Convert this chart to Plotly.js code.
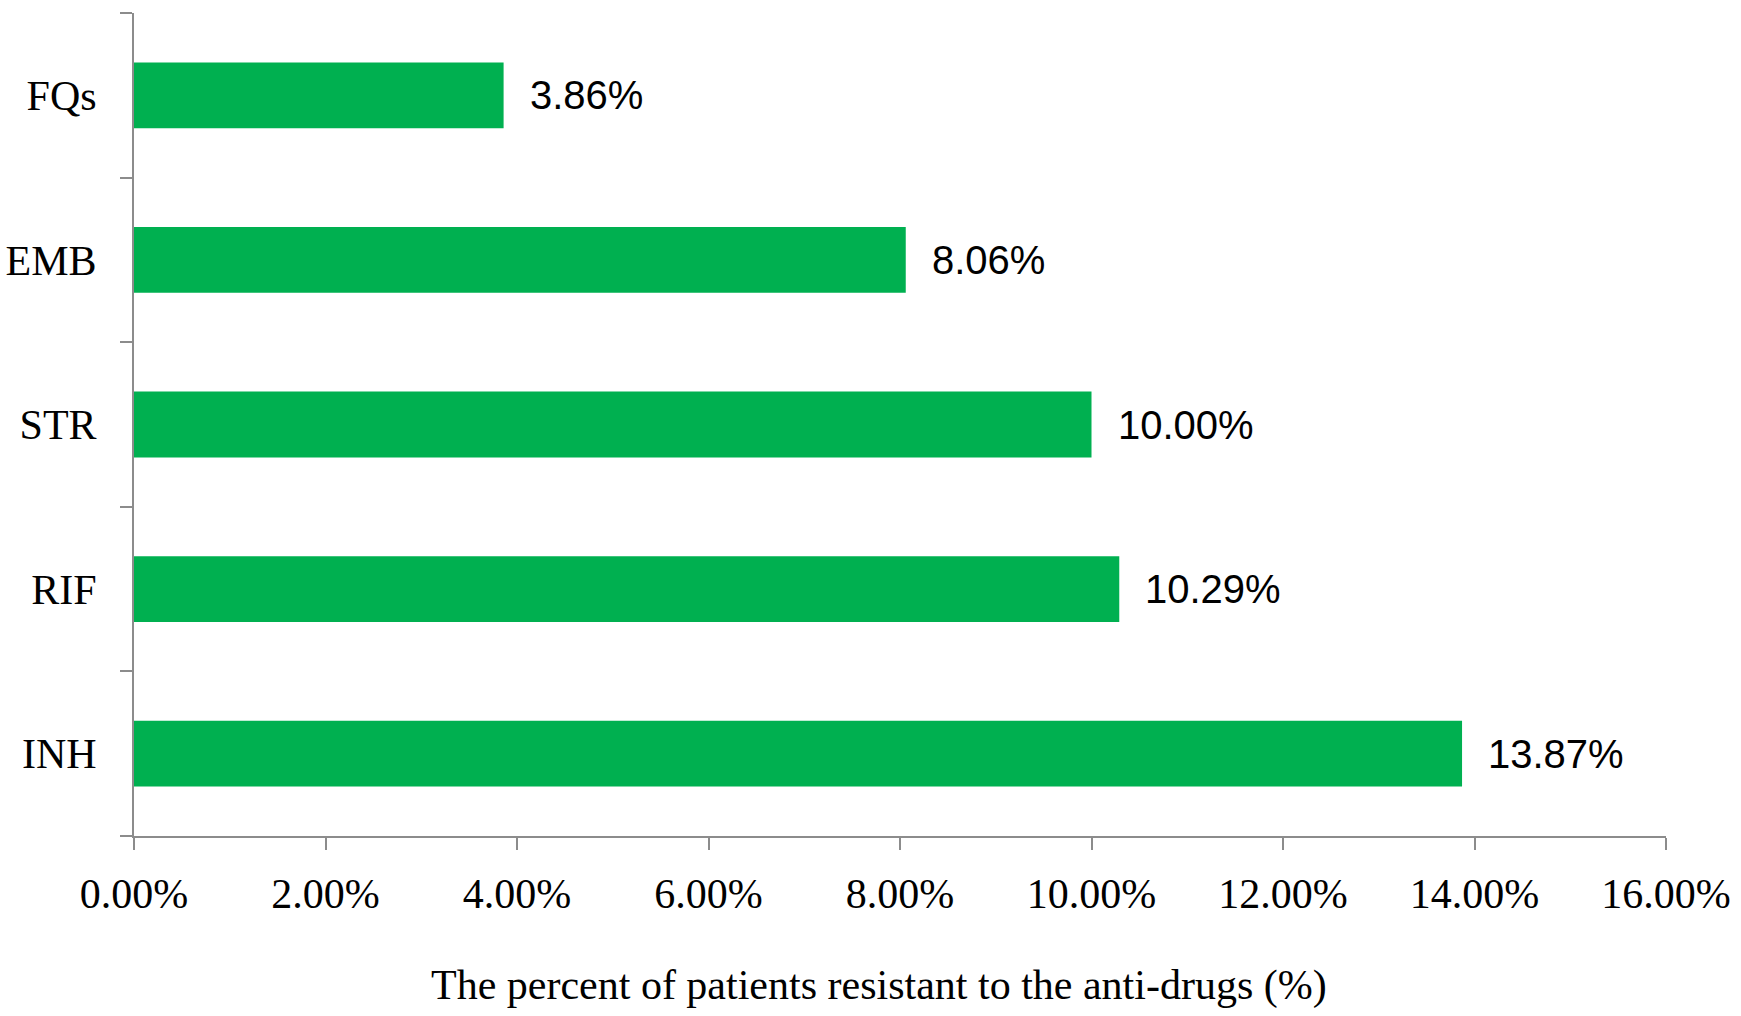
<!DOCTYPE html>
<html>
<head>
<meta charset="utf-8">
<script src="https://cdn.plot.ly/plotly-3.0.1.min.js"></script>
<style>
  html, body { margin: 0; padding: 0; background: #fff; }
  #chart { width: 1741px; height: 1016px; }
</style>
</head>
<body>
<div id="chart"></div>
<script>
// drug categories, bottom to top
const drugs = ['INH', 'RIF', 'STR', 'EMB', 'FQs'];
// percent of patients resistant
const resistant = [13.87, 10.29, 10.00, 8.06, 3.86];
const xTicks = [0, 2, 4, 6, 8, 10, 12, 14, 16];
const xTickText = xTicks.map(v => v.toFixed(2) + '%');
const xTitle = 'The percent of patients resistant to the anti-drugs (%)';

const serif = 'Liberation Serif, Times New Roman, serif';
const sans = 'Liberation Sans, Arial, sans-serif';

const trace = {
  type: 'bar',
  orientation: 'h',
  x: resistant,
  y: drugs,
  marker: { color: '#00B050' },
  hoverinfo: 'none'
};

// value labels to the right of each bar
const labels = drugs.map((d, i) => ({
  x: resistant[i],
  y: d,
  xref: 'x',
  yref: 'y',
  text: resistant[i].toFixed(2) + '%',
  showarrow: false,
  xanchor: 'left',
  yanchor: 'middle',
  xshift: 24,
  font: { family: sans, size: 40, color: '#000' }
}));

// axis title sits a little left of centre in the original
labels.push({
  x: 0.486,
  y: 0,
  xref: 'paper',
  yref: 'paper',
  text: xTitle,
  showarrow: false,
  xanchor: 'center',
  yanchor: 'middle',
  yshift: -149,
  font: { family: serif, size: 42, color: '#000' }
});

const layout = {
  width: 1741,
  height: 1016,
  margin: { l: 134, r: 75, t: 13, b: 180 },
  paper_bgcolor: '#fff',
  plot_bgcolor: '#fff',
  showlegend: false,
  bargap: 0.6,
  xaxis: {
    range: [0, 16],
    tickvals: xTicks,
    ticktext: xTickText,
    showgrid: false,
    zeroline: false,
    showline: true,
    linecolor: '#8c8c8c',
    linewidth: 2,
    ticks: 'outside',
    ticklen: 12,
    tickwidth: 2,
    tickcolor: '#8c8c8c',
    ticklabelstandoff: 8,
    tickfont: { family: serif, size: 42, color: '#000' },
    fixedrange: true
  },
  yaxis: {
    type: 'category',
    showgrid: false,
    zeroline: false,
    showline: true,
    linecolor: '#8c8c8c',
    linewidth: 2,
    ticks: 'outside',
    tickson: 'boundaries',
    ticklen: 12,
    tickwidth: 2,
    tickcolor: '#8c8c8c',
    ticklabelstandoff: 27,
    tickfont: { family: serif, size: 42, color: '#000' },
    fixedrange: true
  },
  annotations: labels
};

Plotly.newPlot('chart', [trace], layout, { displayModeBar: false, staticPlot: true });
</script>
</body>
</html>
